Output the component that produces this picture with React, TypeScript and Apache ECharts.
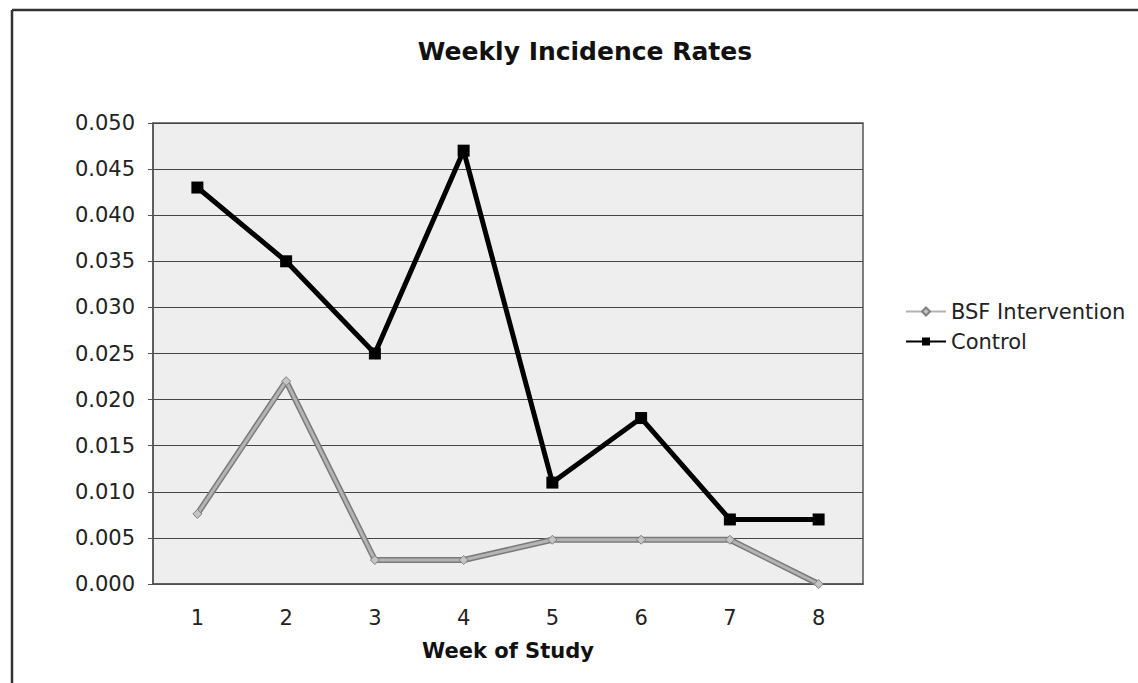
import React, { useEffect, useRef } from "react";
import * as echarts from "echarts";

const weeks = ["1", "2", "3", "4", "5", "6", "7", "8"];
const bsfIntervention = [0.0076, 0.022, 0.0026, 0.0026, 0.0048, 0.0048, 0.0048, 0.0];
const control = [0.043, 0.035, 0.025, 0.047, 0.011, 0.018, 0.007, 0.007];

const FONT = "DejaVu Sans";

export default function App() {
  const ref = useRef<HTMLDivElement>(null);

  useEffect(() => {
    if (!ref.current) return;
    const chart = echarts.init(ref.current, undefined, { renderer: "svg" });
    chart.setOption({
      animation: false,
      backgroundColor: "#ffffff",
      textStyle: { fontFamily: FONT },
      title: {
        text: "Weekly Incidence Rates",
        left: 580,
        top: 34,
        textAlign: "center",
        textStyle: { fontFamily: FONT, fontWeight: "bold", fontSize: 25, color: "#111" },
      },
      legend: {
        orient: "vertical",
        left: 900,
        top: 296,
        itemWidth: 40,
        itemHeight: 10,
        itemGap: 9,
        textStyle: { fontFamily: FONT, fontSize: 21, color: "#222" },
        data: ["BSF Intervention", "Control"],
      },
      grid: {
        left: 153,
        top: 123,
        width: 710,
        height: 461,
        show: true,
        backgroundColor: "#eeeeee",
        borderColor: "#555",
        borderWidth: 1.5,
      },
      xAxis: {
        type: "category",
        data: weeks,
        boundaryGap: true,
        name: "Week of Study",
        nameLocation: "middle",
        nameGap: 56,
        nameTextStyle: { fontFamily: FONT, fontWeight: "bold", fontSize: 21, color: "#111" },
        axisLine: { lineStyle: { color: "#555", width: 1.5 } },
        axisTick: { show: false },
        axisLabel: { fontFamily: FONT, fontSize: 21, color: "#222", margin: 23 },
      },
      yAxis: {
        type: "value",
        min: 0,
        max: 0.05,
        interval: 0.005,
        axisLine: { show: true, lineStyle: { color: "#555", width: 1.5 } },
        axisTick: { show: true, length: 5, lineStyle: { color: "#555" } },
        axisLabel: {
          fontFamily: FONT,
          fontSize: 21,
          color: "#222",
          margin: 18,
          formatter: (v: number) => v.toFixed(3),
        },
        splitLine: { lineStyle: { color: "#444", width: 1.2 } },
      },
      series: [
        {
          name: "BSF Intervention",
          type: "line",
          data: bsfIntervention,
          symbol: "diamond",
          symbolSize: 9,
          lineStyle: { color: "#b4b4b4", width: 3 },
          itemStyle: { color: "#c4c4c4", borderColor: "#808080", borderWidth: 1 },
          z: 4,
        },
        {
          // darker casing drawn under the light BSF line
          name: "BSF Intervention",
          type: "line",
          data: bsfIntervention,
          symbol: "none",
          silent: true,
          lineStyle: { color: "#7a7a7a", width: 6 },
          z: 3,
        },
        {
          name: "Control",
          type: "line",
          data: control,
          symbol: "rect",
          symbolSize: 12,
          lineStyle: { color: "#000", width: 5 },
          itemStyle: { color: "#000" },
          z: 5,
        },
      ],
      graphic: [
        {
          type: "line",
          shape: { x1: 12, y1: 10, x2: 1138, y2: 10 },
          style: { stroke: "#333", lineWidth: 2.5 },
        },
        {
          type: "line",
          shape: { x1: 12, y1: 10, x2: 12, y2: 683 },
          style: { stroke: "#333", lineWidth: 2.5 },
        },
      ],
    });
    return () => chart.dispose();
  }, []);

  return (
    <div
      ref={ref}
      style={{ position: "fixed", left: 0, top: 0, width: 1138, height: 683 }}
    />
  );
}
